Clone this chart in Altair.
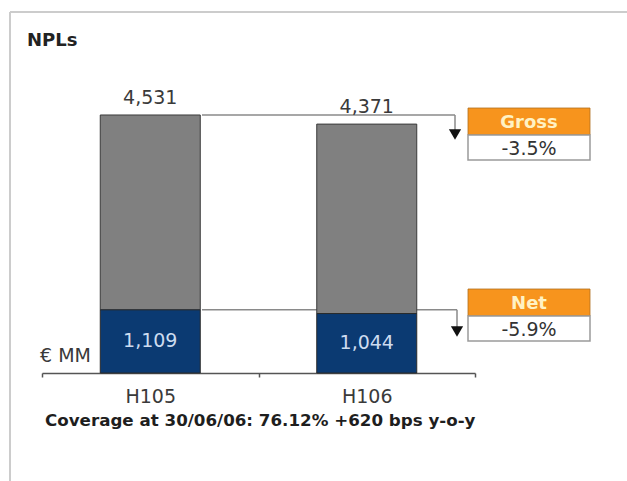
import altair as alt
import pandas as pd

# NPL figures (EUR millions)
periods = ["H105", "H106"]
gross_npl = [4531, 4371]
net_npl = [1109, 1044]

title_text = "NPLs"
unit_text = "€ MM"
coverage_text = "Coverage at 30/06/06: 76.12% +620 bps y-o-y"

FONT = "DejaVu Sans"
GREY = "#808080"
NAVY = "#0b3a72"
ORANGE = "#f7941d"

# plot-area origin inside the 627x481 canvas
OX, OY = 42, 88
W, H = 433, 285


def px(x):
    return x - OX


def py(y):
    return y - OY


df = pd.DataFrame({"period": periods, "gross": gross_npl, "net": net_npl})
df["base"] = 0
df["net_mid"] = df["net"] / 2
df["gross_lbl"] = df["gross"].map(lambda v: f"{v:,}")
df["net_lbl"] = df["net"].map(lambda v: f"{v:,}")

gross_chg = f"{(gross_npl[1] / gross_npl[0] - 1) * 100:.1f}%"
net_chg = f"{(net_npl[1] / net_npl[0] - 1) * 100:.1f}%"

xs = alt.Scale(domain=periods, paddingInner=0, paddingOuter=0)
ys = alt.Scale(domain=[0, 5005], nice=False)

X = alt.X(
    "period:N",
    scale=xs,
    title=None,
    axis=alt.Axis(
        labelAngle=0,
        tickBand="extent",
        domainColor="#555555",
        domainWidth=1.5,
        tickColor="#555555",
        tickWidth=1.5,
        tickSize=4,
        labelFont=FONT,
        labelFontSize=19,
        labelColor="#3a3a3a",
        labelPadding=10,
        grid=False,
    ),
)

base = alt.Chart(df)


def single(text=""):
    return alt.Chart(pd.DataFrame({"t": [text]}))


# outer frame
frame_top = single().mark_rule(color="#cccccc", strokeWidth=2).encode(
    x=alt.value(px(10)), x2=alt.value(px(632)), y=alt.value(py(12))
)
frame_left = single().mark_rule(color="#cccccc", strokeWidth=2).encode(
    x=alt.value(px(10)), y=alt.value(py(12)), y2=alt.value(py(486))
)


def connector(level, x_start, x_end, arrow_top, arrow_mid):
    d = alt.Chart(pd.DataFrame({"level": [level]}))
    horiz = d.mark_rule(color="#8a8a8a", strokeWidth=1.5).encode(
        x=alt.value(px(x_start)),
        x2=alt.value(px(x_end)),
        y=alt.Y("level:Q", scale=ys, axis=None),
    )
    vert = d.mark_rule(color="#8a8a8a", strokeWidth=1.5).encode(
        x=alt.value(px(x_end)),
        y=alt.Y("level:Q", scale=ys, axis=None),
        y2=alt.value(py(arrow_top)),
    )
    arrow = d.mark_point(
        shape="triangle-down", filled=True, size=150, color="#111111", opacity=1
    ).encode(x=alt.value(px(x_end)), y=alt.value(py(arrow_mid)))
    return [horiz, vert, arrow]


gross_conn = connector(gross_npl[0], 202, 455, 130, 134.5)
net_conn = connector(net_npl[0], 202, 457, 327, 331.5)

bar_gross = base.mark_bar(size=100, color=GREY, stroke="#3a3a3a", strokeWidth=1).encode(
    x=X, y=alt.Y("gross:Q", scale=ys, axis=None), y2="net:Q"
)
bar_net = base.mark_bar(size=100, color=NAVY, stroke="#2a2a2a", strokeWidth=1).encode(
    x=X, y=alt.Y("net:Q", scale=ys, axis=None), y2="base:Q"
)

lbl_gross = base.mark_text(
    font=FONT, fontSize=19, color="#3a3a3a", dy=-11, baseline="alphabetic"
).encode(x=X, y=alt.Y("gross:Q", scale=ys, axis=None), text="gross_lbl:N")
lbl_net = base.mark_text(
    font=FONT, fontSize=19, color="#cddcf0", baseline="middle"
).encode(x=X, y=alt.Y("net_mid:Q", scale=ys, axis=None), text="net_lbl:N")


def badge(head, value, top, mid, bottom):
    head_rect = single().mark_rect(color=ORANGE, stroke="#b07020", strokeWidth=0.8).encode(
        x=alt.value(px(468)), x2=alt.value(px(590)),
        y=alt.value(py(top)), y2=alt.value(py(mid)),
    )
    val_rect = single().mark_rect(fill="white", stroke="#9a9a9a", strokeWidth=1.5).encode(
        x=alt.value(px(468)), x2=alt.value(px(590)),
        y=alt.value(py(mid)), y2=alt.value(py(bottom)),
    )
    head_txt = single(head).mark_text(
        font=FONT, fontSize=18, fontWeight="bold", color="#fff2c4", baseline="middle"
    ).encode(x=alt.value(px(529)), y=alt.value(py((top + mid) / 2 + 1)), text="t:N")
    val_txt = single(value).mark_text(
        font=FONT, fontSize=19, color="#333333", baseline="middle"
    ).encode(x=alt.value(px(529)), y=alt.value(py((mid + bottom) / 2 + 1)), text="t:N")
    return [head_rect, val_rect, head_txt, val_txt]


gross_badge = badge("Gross", gross_chg, 108, 135, 160)
net_badge = badge("Net", net_chg, 289, 316, 341)

title = single(title_text).mark_text(
    font=FONT, fontSize=18, fontWeight="bold", color="#222222", align="left", baseline="middle"
).encode(x=alt.value(px(27)), y=alt.value(py(41)), text="t:N")

unit = single(unit_text).mark_text(
    font=FONT, fontSize=19, color="#3a3a3a", align="left", baseline="middle"
).encode(x=alt.value(px(40)), y=alt.value(py(356)), text="t:N")

coverage = single(coverage_text).mark_text(
    font=FONT, fontSize=16.7, fontWeight="bold", color="#1e1e1e", align="left", baseline="middle"
).encode(x=alt.value(px(45)), y=alt.value(py(421)), text="t:N")

chart = alt.layer(
    frame_top,
    frame_left,
    *gross_conn,
    *net_conn,
    bar_gross,
    bar_net,
    lbl_gross,
    lbl_net,
    *gross_badge,
    *net_badge,
    title,
    unit,
    coverage,
).properties(
    width=W,
    height=H,
    autosize=alt.AutoSizeParams(type="none"),
    padding={"left": OX, "top": OY, "right": 627 - OX - W, "bottom": 481 - OY - H},
    background="white",
).configure_view(stroke=None)

chart.save("out.html", embed_options={"renderer": "svg", "actions": False})
